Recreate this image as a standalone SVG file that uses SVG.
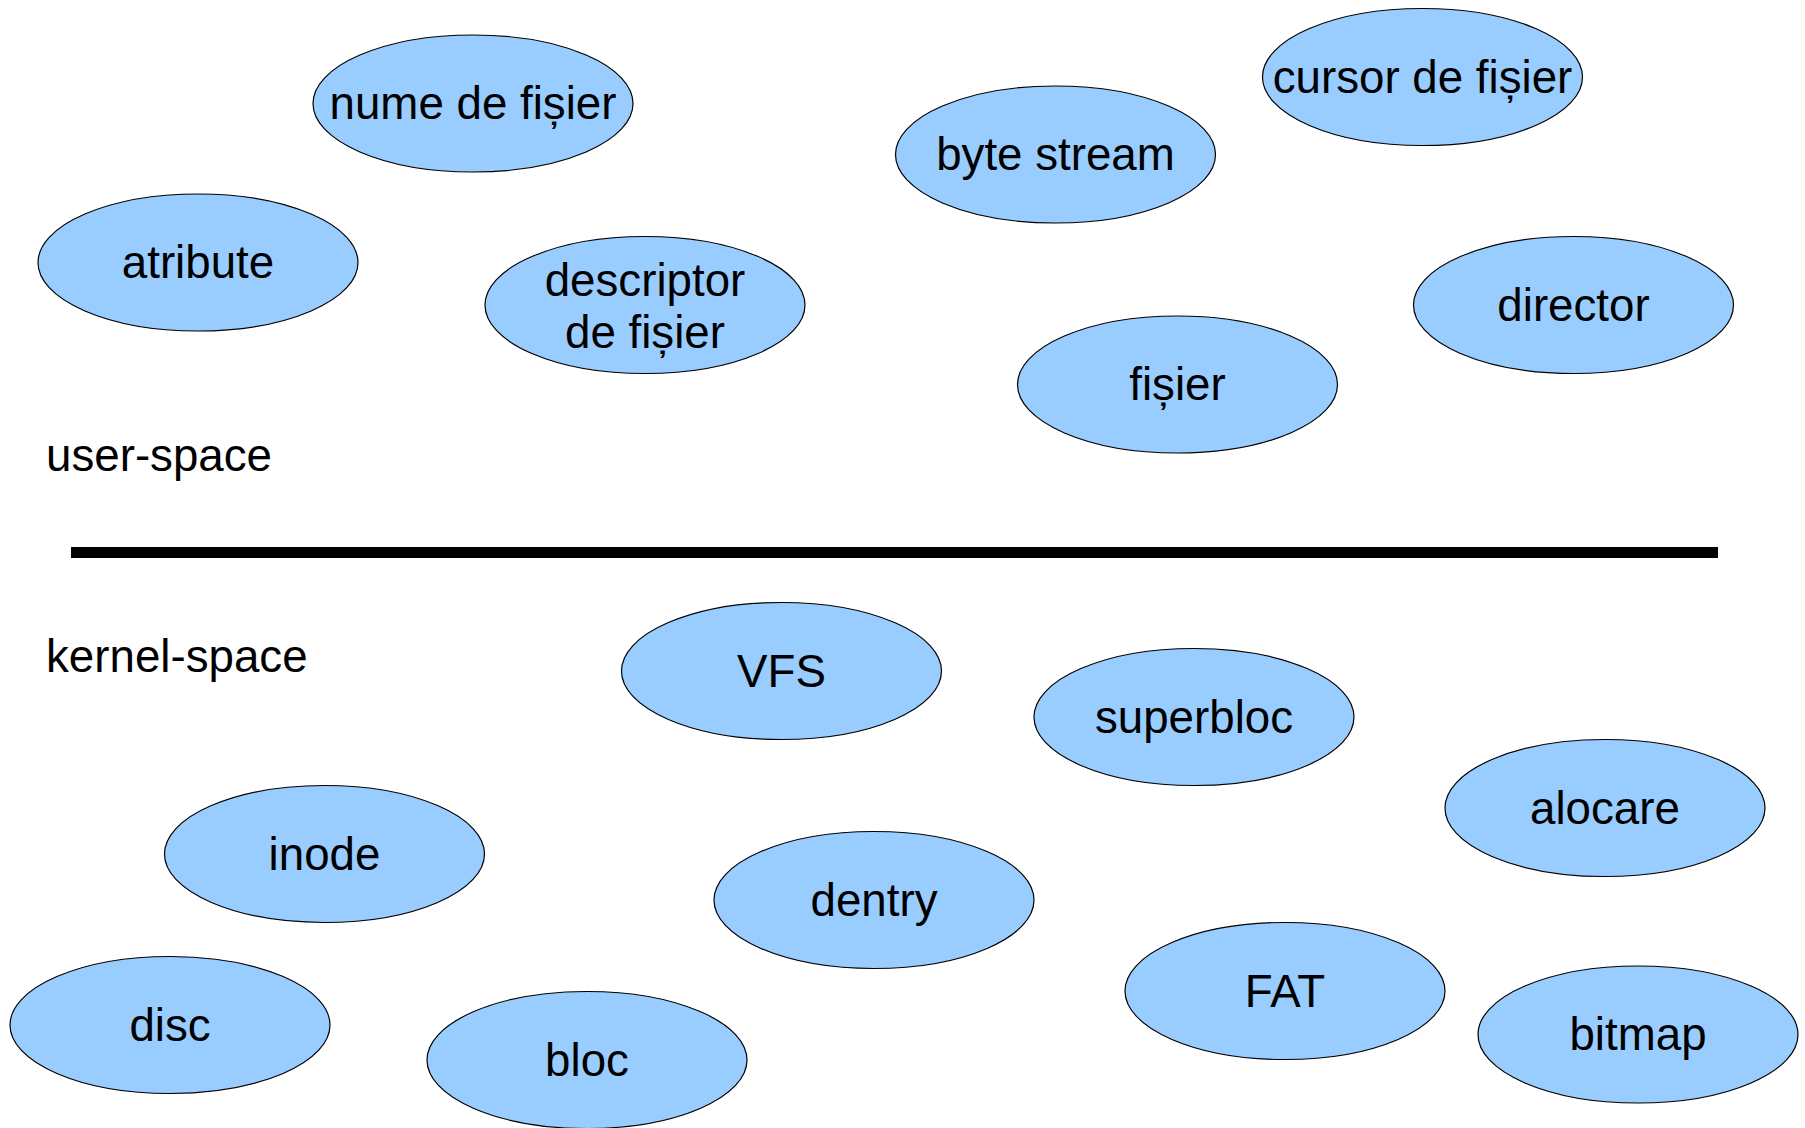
<svg xmlns="http://www.w3.org/2000/svg" width="1805" height="1128" viewBox="0 0 1805 1128">
<style>
.n ellipse{fill:#99ccff;stroke:#000;stroke-width:1.2}
text{font-family:"Liberation Sans",Arial,sans-serif;font-size:45.7px;fill:#000}
.n text{text-anchor:middle}
</style>
<rect width="1805" height="1128" fill="#fff"/>
<g id="connectors">
<rect x="71" y="547" width="1647" height="11" fill="#000"/>
</g>
<text id="lbl-user" x="46" y="471">user-space</text>
<text id="lbl-kernel" x="46" y="672">kernel-space</text>
<g id="n-nume" class="n"><ellipse cx="473" cy="103.5" rx="160" ry="68.5"/><text x="473" y="119">nume de fișier</text></g>
<g id="n-atribute" class="n"><ellipse cx="198" cy="262.5" rx="160" ry="68.5"/><text x="198" y="278">atribute</text></g>
<g id="n-descriptor" class="n"><ellipse cx="645" cy="305" rx="160" ry="68.5"/><text x="645" y="296">descriptor</text><text x="645" y="348">de fișier</text></g>
<g id="n-bytestream" class="n"><ellipse cx="1055.5" cy="154.5" rx="160" ry="68.5"/><text x="1055.5" y="170">byte stream</text></g>
<g id="n-cursor" class="n"><ellipse cx="1422.5" cy="77" rx="160" ry="68.5"/><text x="1422.5" y="92.5">cursor de fișier</text></g>
<g id="n-director" class="n"><ellipse cx="1573.5" cy="305" rx="160" ry="68.5"/><text x="1573.5" y="320.5">director</text></g>
<g id="n-fisier" class="n"><ellipse cx="1177.5" cy="384.5" rx="160" ry="68.5"/><text x="1177.5" y="400">fișier</text></g>
<g id="n-vfs" class="n"><ellipse cx="781.5" cy="671" rx="160" ry="68.5"/><text x="781.5" y="686.5">VFS</text></g>
<g id="n-superbloc" class="n"><ellipse cx="1194" cy="717" rx="160" ry="68.5"/><text x="1194" y="732.5">superbloc</text></g>
<g id="n-alocare" class="n"><ellipse cx="1605" cy="808" rx="160" ry="68.5"/><text x="1605" y="823.5">alocare</text></g>
<g id="n-inode" class="n"><ellipse cx="324.5" cy="854" rx="160" ry="68.5"/><text x="324.5" y="869.5">inode</text></g>
<g id="n-dentry" class="n"><ellipse cx="874" cy="900" rx="160" ry="68.5"/><text x="874" y="915.5">dentry</text></g>
<g id="n-disc" class="n"><ellipse cx="170" cy="1025" rx="160" ry="68.5"/><text x="170" y="1040.5">disc</text></g>
<g id="n-bloc" class="n"><ellipse cx="587" cy="1060" rx="160" ry="68.5"/><text x="587" y="1075.5">bloc</text></g>
<g id="n-fat" class="n"><ellipse cx="1285" cy="991" rx="160" ry="68.5"/><text x="1285" y="1006.5">FAT</text></g>
<g id="n-bitmap" class="n"><ellipse cx="1638" cy="1034.5" rx="160" ry="68.5"/><text x="1638" y="1050">bitmap</text></g>
</svg>
